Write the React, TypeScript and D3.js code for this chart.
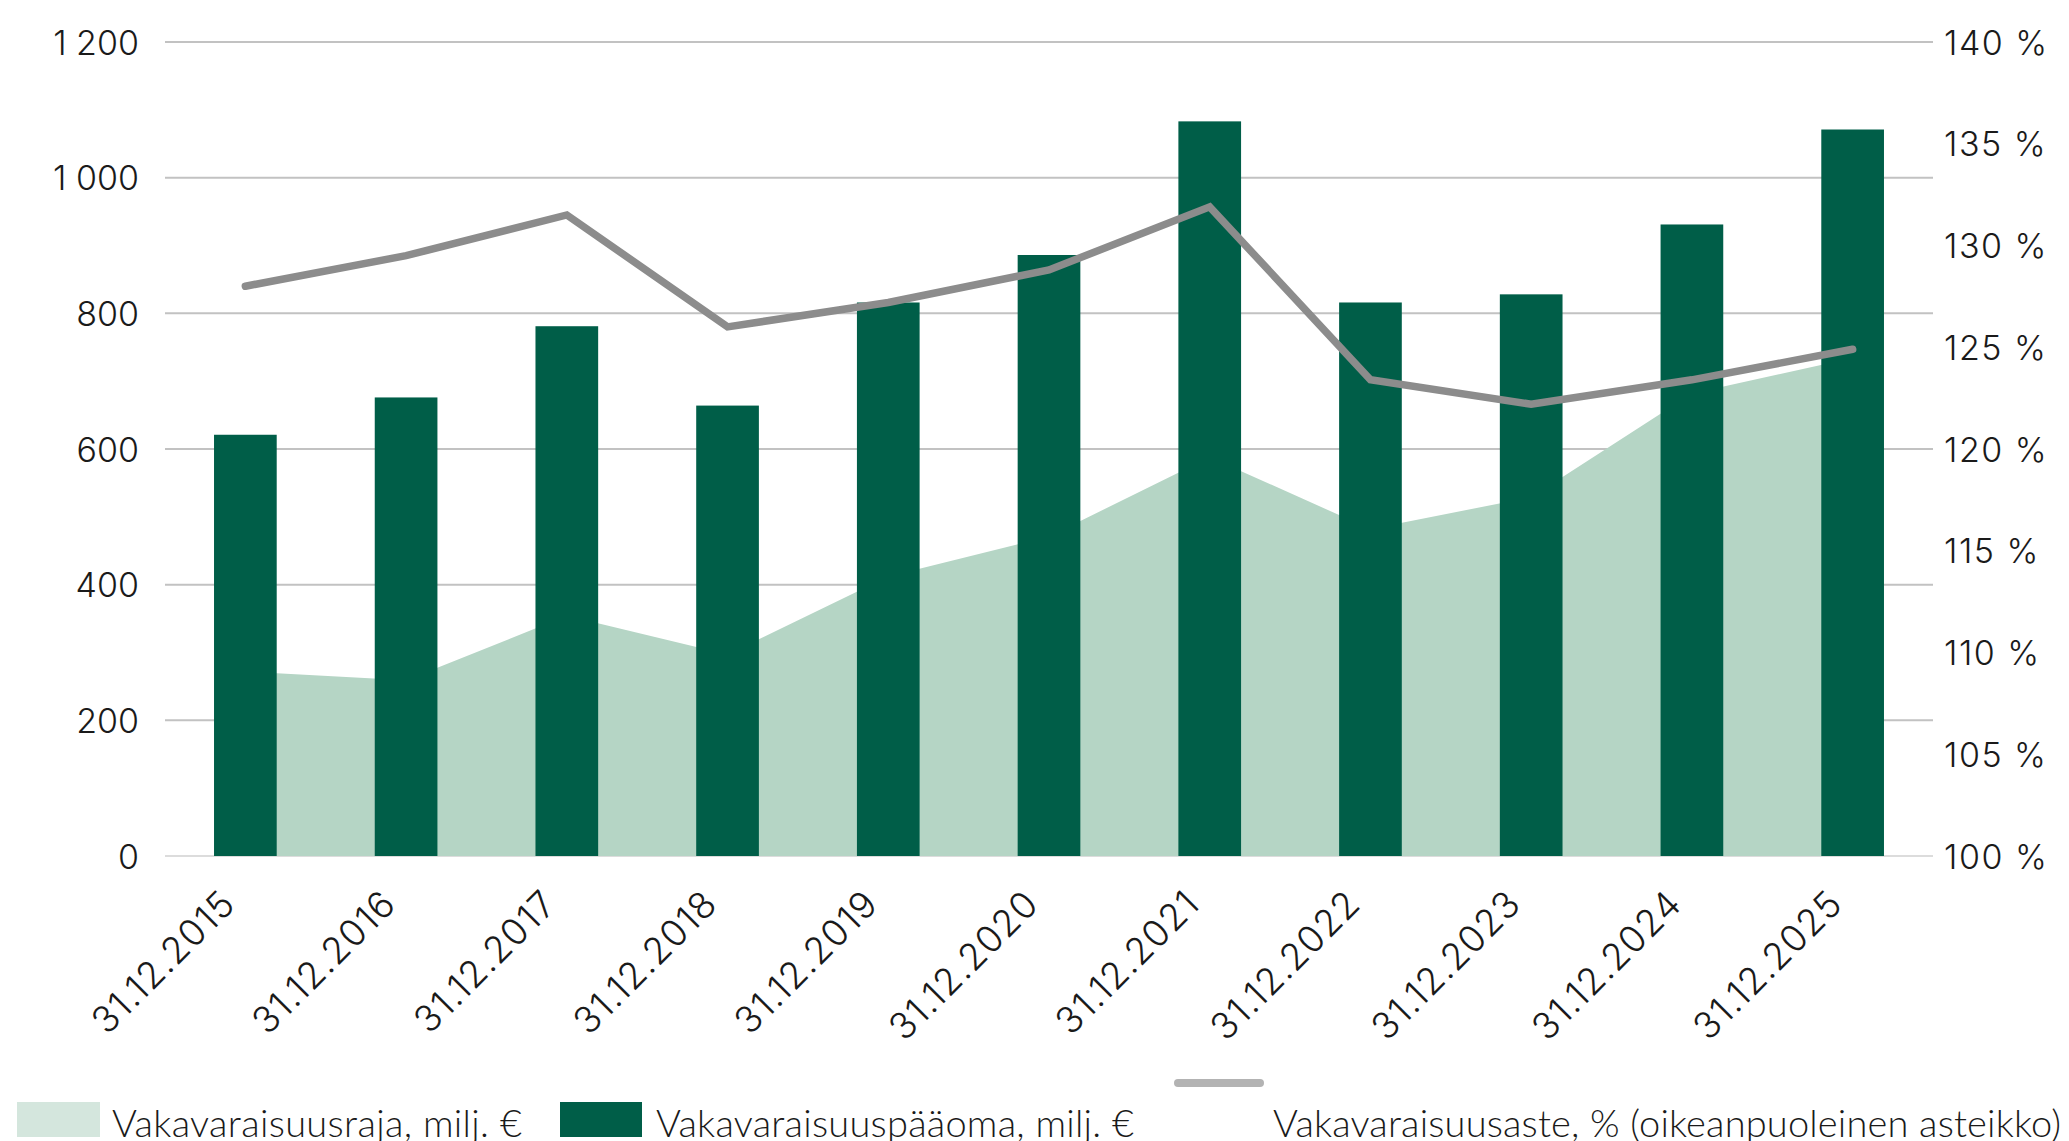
import {useEffect, useRef} from 'react';
import * as d3 from 'd3';

const categories = [
    '31.12.2015', '31.12.2016', '31.12.2017', '31.12.2018', '31.12.2019', '31.12.2020',
    '31.12.2021', '31.12.2022', '31.12.2023', '31.12.2024', '31.12.2025',
];
// Vakavaraisuuspääoma, milj. € (bars)
const capital = [621, 676, 781, 664, 816, 886, 1083, 816, 828, 931, 1071];
// Vakavaraisuusraja, milj. € (area)
const requirement = [272, 259, 354, 297, 412, 471, 588, 482, 529, 682, 734];
// Vakavaraisuusaste, % (line, right axis)
const ratio = [128.0, 129.5, 131.5, 126.0, 127.2, 128.8, 131.9, 123.4, 122.2, 123.4, 124.9];

const leftTicks = [0, 200, 400, 600, 800, 1000, 1200];
const rightTicks = [100, 105, 110, 115, 120, 125, 130, 135, 140];
const legendLabels = [
    'Vakavaraisuusraja, milj. €',
    'Vakavaraisuuspääoma, milj. €',
    'Vakavaraisuusaste, % (oikeanpuoleinen asteikko)',
];

export default function App() {
    const ref = useRef<SVGSVGElement>(null);

    useEffect(() => {
        const width = 2069;
        const height = 1141;
        const svg = d3.select(ref.current);
        svg.selectAll('*').remove();

        const left = 165;
        const right = 1933;
        const bottom = 856;
        const top = 42;
        const font = 'Inter, "Open Sans", sans-serif';

        const x = d3
            .scaleBand()
            .domain(categories)
            .range([left, right])
            .paddingInner(0.61)
            .paddingOuter(0.305);
        const cx = (d: string) => x(d)! + x.bandwidth() / 2;

        const y = d3.scaleLinear().domain([0, 1200]).range([bottom, top]);
        const y2 = d3.scaleLinear().domain([100, 140]).range([bottom, top]);

        // gridlines
        svg
            .append('g')
            .selectAll('line')
            .data(leftTicks)
            .enter()
            .append('line')
            .attr('x1', left)
            .attr('x2', right)
            .attr('y1', (d) => y(d))
            .attr('y2', (d) => y(d))
            .attr('stroke', (d) => (d === 0 ? '#dcdcdc' : '#c2c2c2'))
            .attr('stroke-width', 2);

        // area
        const area = d3
            .area<number>()
            .x((d, i) => cx(categories[i]))
            .y0(bottom)
            .y1((d) => y(d));
        svg.append('path').datum(requirement).attr('d', area).attr('fill', '#b5d5c5');

        // bars
        svg
            .selectAll('.bar')
            .data(capital)
            .enter()
            .append('rect')
            .attr('x', (d, i) => x(categories[i])!)
            .attr('y', (d) => y(d))
            .attr('width', x.bandwidth())
            .attr('height', (d) => bottom - y(d))
            .attr('fill', '#005e48');

        // line
        const line = d3
            .line<number>()
            .x((d, i) => cx(categories[i]))
            .y((d) => y2(d));
        svg
            .append('path')
            .datum(ratio)
            .attr('d', line)
            .attr('fill', 'none')
            .attr('stroke', '#8c8c8c')
            .attr('stroke-width', 7.5)
            .attr('stroke-linecap', 'round')
            .attr('stroke-linejoin', 'miter');

        // left axis labels
        svg
            .append('g')
            .selectAll('text')
            .data(leftTicks)
            .enter()
            .append('text')
            .attr('x', 139)
            .attr('y', (d) => y(d))
            .attr('text-anchor', 'end')
            .attr('dominant-baseline', 'central')
            .attr('font-family', font)
            .attr('font-weight', 300)
            .attr('font-size', 34)
            .attr('fill', '#1a1a1a')
            .text((d) => d3.format(',')(d).replace(',', ' '));

        // right axis labels
        svg
            .append('g')
            .selectAll('text')
            .data(rightTicks)
            .enter()
            .append('text')
            .attr('x', 1944)
            .attr('y', (d) => y2(d))
            .attr('dominant-baseline', 'central')
            .attr('font-family', font)
            .attr('font-weight', 300)
            .attr('font-size', 34)
            .attr('letter-spacing', 1.5)
            .attr('fill', '#1a1a1a')
            .text((d) => `${d} %`);

        // category labels
        svg
            .append('g')
            .selectAll('text')
            .data(categories)
            .enter()
            .append('text')
            .attr('transform', (d) => `translate(${cx(d) - 8}, 906) rotate(-45)`)
            .attr('text-anchor', 'end')
            .attr('font-family', font)
            .attr('font-weight', 300)
            .attr('font-size', 37)
            .attr('letter-spacing', 1)
            .attr('fill', '#1a1a1a')
            .text((d) => d);

        // legend
        const legend = svg
            .append('g')
            .attr('font-family', 'Lato, sans-serif')
            .attr('font-weight', 300)
            .attr('font-size', 38)
            .attr('fill', '#1a1a1a');
        legend.append('rect').attr('x', 17).attr('y', 1102).attr('width', 83).attr('height', 35).attr('fill', '#d4e6dd');
        legend
            .append('text')
            .attr('x', 112)
            .attr('y', 1137)
            .attr('textLength', 410)
            .attr('lengthAdjust', 'spacing')
            .text(legendLabels[0]);
        legend.append('rect').attr('x', 560).attr('y', 1102).attr('width', 82).attr('height', 35).attr('fill', '#005e48');
        legend
            .append('text')
            .attr('x', 656)
            .attr('y', 1137)
            .attr('textLength', 478)
            .attr('lengthAdjust', 'spacing')
            .text(legendLabels[1]);
        legend
            .append('line')
            .attr('x1', 1178)
            .attr('x2', 1260)
            .attr('y1', 1083)
            .attr('y2', 1083)
            .attr('stroke', '#b3b3b3')
            .attr('stroke-width', 8)
            .attr('stroke-linecap', 'round');
        legend
            .append('text')
            .attr('x', 1273)
            .attr('y', 1137)
            .attr('textLength', 788)
            .attr('lengthAdjust', 'spacing')
            .text(legendLabels[2]);

        svg.attr('viewBox', `0 0 ${width} ${height}`);
    }, []);

    return (
        <svg
            ref={ref}
            width={2069}
            height={1141}
            style={{position: 'absolute', left: 0, top: 0, background: '#fff'}}
        ></svg>
    );
}
